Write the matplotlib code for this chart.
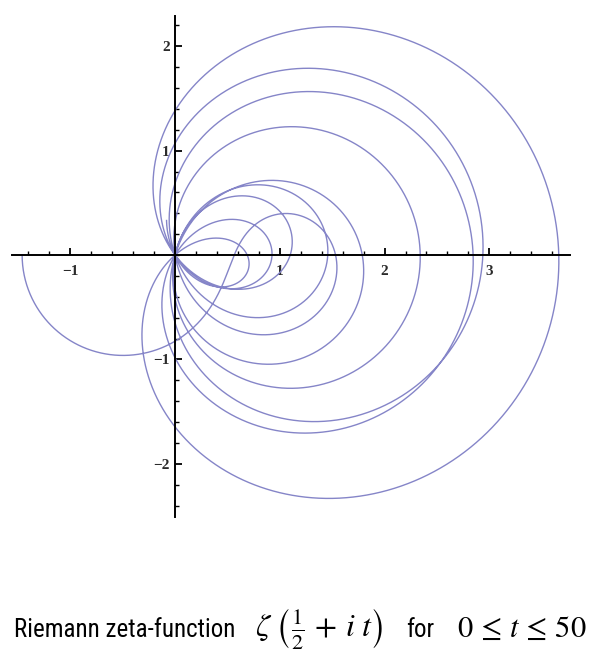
import math
import numpy as np
import matplotlib
matplotlib.use("Agg")
import matplotlib.pyplot as plt
from matplotlib.ticker import MultipleLocator, FixedLocator

# parameter range of the curve zeta(1/2 + i t)
t_start = 0.0
t_end = 50.0
n_samples = 20000

# axis ranges and ticks
x_range = [-1.56, 3.77]
y_range = [-2.51, 2.29]
x_ticks = [-1, 1, 2, 3]
y_ticks = [-2, -1, 1, 2]

title_text = "Riemann zeta-function"
title_math = r"$\zeta\;\left(\frac{1}{2}\,+\,i\ t\right)$"
title_for = "for"
title_range = r"$0\,\leq\,t\,\leq\,50$"

narrow_fonts = ['Roboto Condensed', 'Liberation Sans Narrow', 'DejaVu Sans']


def zeta(s, N=60, m=8):
    """Euler-Maclaurin summation for the Riemann zeta function"""
    bern = [1/6, -1/30, 1/42, -1/30, 5/66, -691/2730, 7/6, -3617/510]
    n = np.arange(1, N, dtype=float)[:, None]
    total = (n ** (-s[None, :])).sum(axis=0)
    total += N ** (1 - s) / (s - 1) + 0.5 * N ** (-s)
    poch = s.copy()
    for k in range(1, m + 1):
        total += bern[k - 1] / math.factorial(2 * k) * poch * N ** (-s - 2 * k + 1)
        poch = poch * (s + 2 * k - 1) * (s + 2 * k)
    return total


t = np.linspace(t_start, t_end, n_samples)
z = zeta(0.5 + 1j * t)

plt.rcParams['mathtext.fontset'] = 'stix'

fig = plt.figure(figsize=(5.99, 6.59), dpi=100)
ax = fig.add_axes([11.7 / 599, 142 / 659, (570 - 11.7) / 599, (517 - 16) / 659])

ax.plot(z.real, z.imag, color='#8585c8', linewidth=1.0)

ax.set_xlim(x_range)
ax.set_ylim(y_range)

# Mathematica style axes through the origin
for side in ['top', 'right']:
    ax.spines[side].set_visible(False)
ax.spines['left'].set_position('zero')
ax.spines['bottom'].set_position('zero')
ax.spines['left'].set_linewidth(1.4)
ax.spines['bottom'].set_linewidth(1.4)

ax.xaxis.set_major_locator(FixedLocator(x_ticks))
ax.yaxis.set_major_locator(FixedLocator(y_ticks))
ax.xaxis.set_minor_locator(MultipleLocator(0.2))
ax.yaxis.set_minor_locator(MultipleLocator(0.2))
ax.set_xticklabels(['\u2212' + str(-v) if v < 0 else str(v) for v in x_ticks])
ax.set_yticklabels(['\u2212' + str(-v) if v < 0 else str(v) for v in y_ticks])

ax.tick_params(which='major', direction='in', length=5, width=1.3, color='black')
ax.tick_params(which='minor', direction='in', length=3, width=1.0, color='black')
ax.tick_params(axis='x', which='major', pad=7)
ax.tick_params(axis='y', which='major', pad=4)
for lab in ax.get_xticklabels() + ax.get_yticklabels():
    lab.set_fontfamily('Liberation Serif')
    lab.set_fontsize(11)
    lab.set_color('#2b2b2b')
    lab.set_fontweight('bold')

ax.set_facecolor('white')

# caption below the plot
base_y = (659 - 637) / 659
fig.text(14 / 599, base_y, title_text, family=narrow_fonts, stretch='condensed',
         fontsize=18, va='baseline', ha='left')
fig.text(255 / 599, base_y, title_math, fontsize=23, va='baseline', ha='left')
fig.text(406 / 599, base_y, title_for, family=narrow_fonts, stretch='condensed',
         fontsize=18, va='baseline', ha='left')
fig.text(457 / 599, base_y, title_range, fontsize=22, va='baseline', ha='left')

fig.savefig('out.png', dpi=100, facecolor='white')
plt.close(fig)
